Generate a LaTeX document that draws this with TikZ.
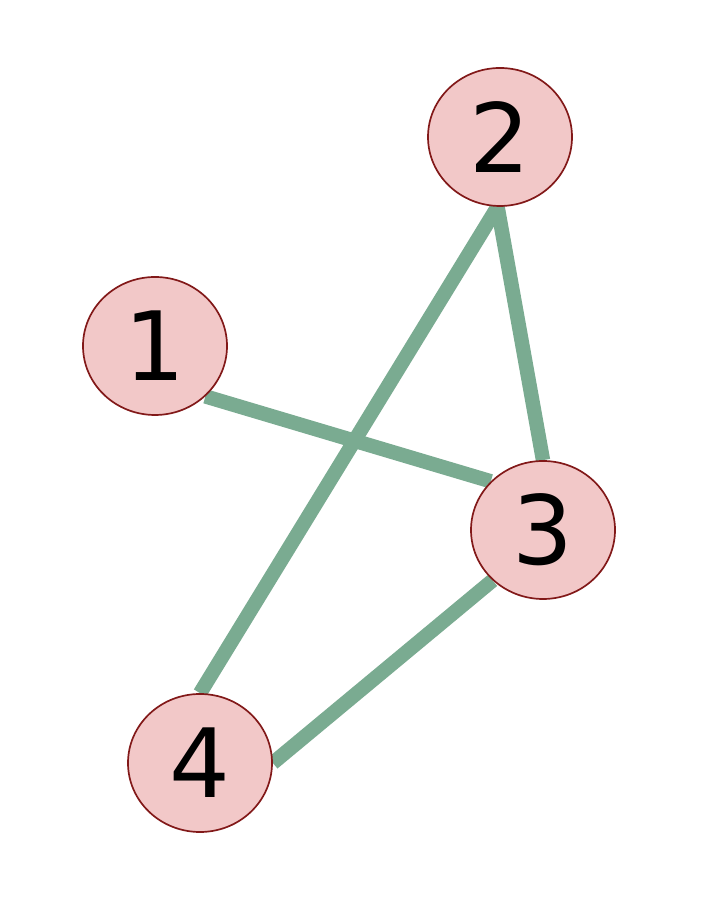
\documentclass[tikz,border=0pt]{standalone}
\usepackage{fontspec}
\newfontfamily\vertfont{DejaVu Sans}
\usepackage{xcolor}
\usetikzlibrary{shapes.geometric, backgrounds}
\definecolor{nodepink}{RGB}{242, 200, 200}
\definecolor{nodered}{RGB}{130, 25, 25}
\definecolor{edgegreen}{RGB}{122, 171, 145}

\tikzset{
vert/.style={ellipse, minimum width=3.6cm, minimum height=3.45cm, inner sep=0pt,
 fill=nodepink, draw=nodered, line width=1.2pt, font=\vertfont\fontsize{68}{68}\selectfont},
link/.style={color=edgegreen, line width=0.36cm}
}

\begin{document}
\begin{tikzpicture}
\useasboundingbox (0,0) rectangle (18,22.5);

%vertices
\node[vert] (v1) at (3.875,13.85) {1};
\node[vert] (v2) at (12.5,19.075) {2};
\node[vert] (v3) at (13.575,9.25) {3};
\node[vert] (v4) at (5.0,3.425) {4};

%edges
\begin{pgfonlayer}{background}
\draw[link] (v1.-45) -- (v3.137);
\draw[link] (v2.-92) -- (v4.90);
\draw[link] (v2.-92) -- (v3.90);
\draw[link] (v3.225) -- (v4.0);
\end{pgfonlayer}

\end{tikzpicture}
\end{document}
